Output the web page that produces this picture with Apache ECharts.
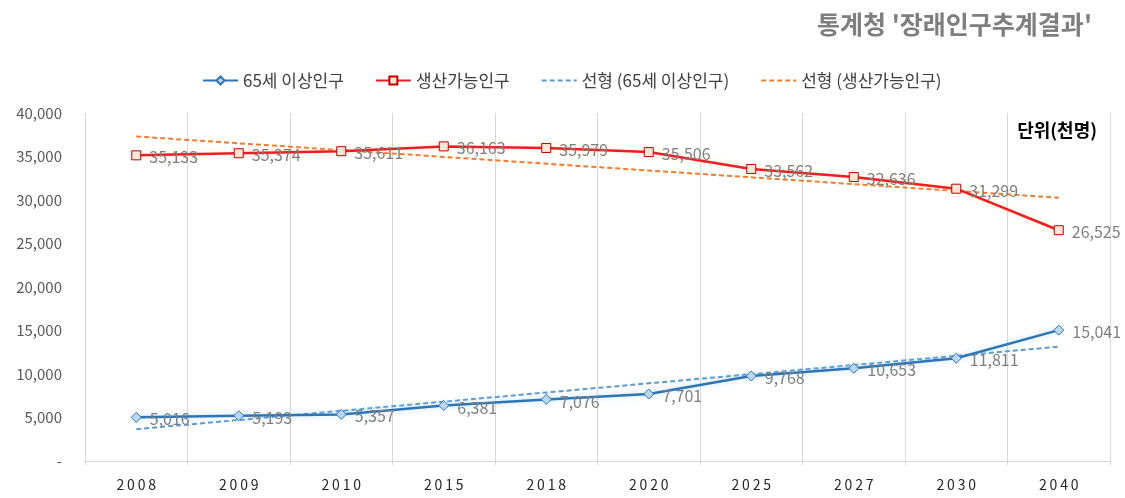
<!DOCTYPE html>
<html>
<head>
<meta charset="utf-8">
<script src="https://cdn.jsdelivr.net/npm/echarts@6/dist/echarts.min.js"></script>
<style>
html,body{margin:0;padding:0;background:#fff;}
#chart{width:1125px;height:498px;}
</style>
</head>
<body>
<div id="chart"></div>
<script>
// ---- data ----
var years = ['2008','2009','2010','2015','2018','2020','2025','2027','2030','2040'];
var elderly = [5016, 5193, 5357, 6381, 7076, 7701, 9768, 10653, 11811, 15041];
var working = [35133, 35374, 35611, 36163, 35979, 35506, 33562, 32636, 31299, 26525];
// trend line endpoints (first and last category)
var elderlyTrendEnds = [3660, 13140];
var workingTrendEnds = [37300, 30260];
var seriesNames = ['65세 이상인구', '생산가능인구', '선형 (65세 이상인구)', '선형 (생산가능인구)'];
var titleText = "통계청 '장래인구추계결과'";
var unitText = '단위(천명)';

function endsToSeries(ends) {
  var arr = years.map(function () { return null; });
  arr[0] = ends[0];
  arr[arr.length - 1] = ends[1];
  return arr;
}

var FONT = "'Noto Sans CJK KR', 'Noto Sans', sans-serif";
var chart = echarts.init(document.getElementById('chart'), null, {renderer: 'canvas'});

var labelStyle = {
  show: true,
  position: 'right',
  distance: 8,
  offset: [0, 2],
  color: '#7f7f7f',
  fontSize: 16,
  fontFamily: FONT,
  formatter: function (p) { return p.value.toLocaleString('en-US'); }
};

chart.setOption({
  animation: false,
  backgroundColor: '#ffffff',
  textStyle: {fontFamily: FONT},
  title: [{
    text: titleText,
    right: 28,
    top: 7,
    textStyle: {fontSize: 25, fontWeight: 'bold', color: '#7f7f7f', fontFamily: FONT}
  }, {
    text: unitText,
    right: 23,
    top: 116,
    textStyle: {fontSize: 18, fontWeight: 'bold', color: '#000000', fontFamily: FONT}
  }],
  legend: {
    top: 67,
    left: 197,
    itemGap: 31,
    itemWidth: 35,
    itemHeight: 10,
    textStyle: {fontSize: 17, color: '#404040', fontFamily: FONT},
    data: [
      {name: seriesNames[0]},
      {name: seriesNames[1]},
      {name: seriesNames[2], itemStyle: {opacity: 0}},
      {name: seriesNames[3], itemStyle: {opacity: 0}}
    ]
  },
  grid: {left: 85, right: 15, top: 113, bottom: 37, containLabel: false},
  xAxis: {
    type: 'category',
    data: years,
    boundaryGap: true,
    axisLine: {show: true, lineStyle: {color: '#d9d9d9', width: 1}},
    axisTick: {show: true, length: 4, lineStyle: {color: '#d9d9d9'}},
    splitLine: {show: true, lineStyle: {color: '#d9d9d9', width: 1}},
    axisLabel: {
      color: '#262626', fontSize: 14, margin: 17, fontFamily: FONT,
      formatter: function (v) { return v.split('').join('\u2009'); }
    }
  },
  yAxis: {
    type: 'value',
    min: 0,
    max: 40000,
    interval: 5000,
    axisLine: {show: false},
    axisTick: {show: false},
    splitLine: {show: false},
    axisLabel: {
      color: '#595959', fontSize: 15, margin: 23, fontFamily: FONT,
      formatter: function (v) { return v === 0 ? '-' : v.toLocaleString('en-US'); }
    }
  },
  series: [{
    name: seriesNames[0],
    type: 'line',
    data: elderly,
    symbol: 'diamond',
    symbolSize: 10,
    itemStyle: {color: '#bdd7ee', borderColor: '#2e75b6', borderWidth: 1},
    lineStyle: {color: '#2e75b6', width: 2.5, shadowColor: 'rgba(140,200,255,0.6)', shadowBlur: 6},
    label: labelStyle,
    z: 3
  }, {
    name: seriesNames[1],
    type: 'line',
    data: working,
    symbol: 'rect',
    symbolSize: 9,
    itemStyle: {color: '#fbe5d6', borderColor: '#c00000', borderWidth: 1},
    lineStyle: {color: '#ee1c25', width: 2.5, shadowColor: 'rgba(255,220,150,0.6)', shadowBlur: 6},
    label: labelStyle,
    z: 3
  }, {
    name: seriesNames[2],
    type: 'line',
    data: endsToSeries(elderlyTrendEnds),
    connectNulls: true,
    symbol: 'none',
    itemStyle: {color: '#5b9bd5'},
    lineStyle: {color: '#5b9bd5', width: 2, type: [5, 3]},
    z: 2
  }, {
    name: seriesNames[3],
    type: 'line',
    data: endsToSeries(workingTrendEnds),
    connectNulls: true,
    symbol: 'none',
    itemStyle: {color: '#ed7d31'},
    lineStyle: {color: '#ed7d31', width: 2, type: [5, 3]},
    z: 2
  }]
});
</script>
</body>
</html>
